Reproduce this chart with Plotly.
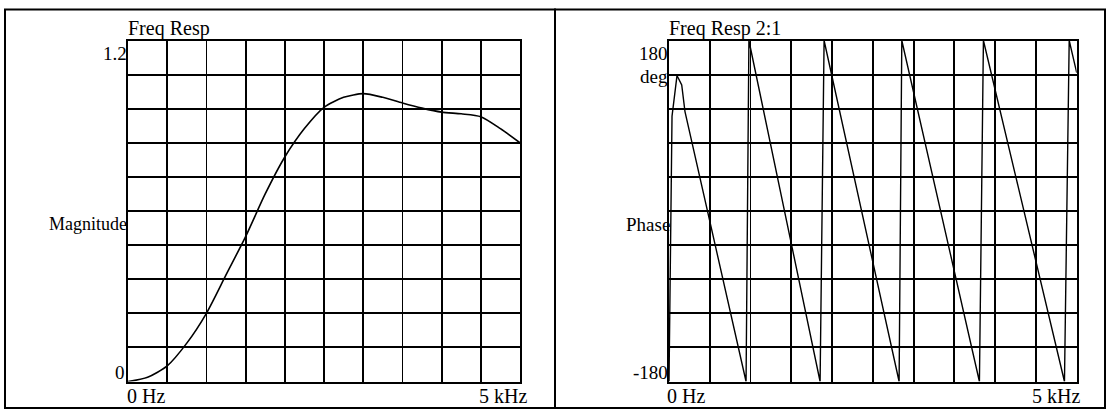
import plotly.graph_objects as go

W, H = 1109, 410

# ---- data ----
mag_freq_khz = [0, 0.25, 0.5, 0.75, 1.0, 1.25, 1.5, 1.75, 2.0, 2.25, 2.5, 2.75,
                3.0, 3.25, 3.5, 3.75, 4.0, 4.25, 4.5, 4.75, 5.0]
mag_values = [0, 0.015, 0.055, 0.135, 0.24, 0.375, 0.51, 0.66, 0.79, 0.89, 0.965, 1.0,
              1.013, 1.0, 0.98, 0.962, 0.948, 0.942, 0.932, 0.89, 0.84]

phase_freq_khz = [0, 0.037, 0.098, 0.156, 0.196, 0.945, 0.98, 1.853, 1.902, 2.822,
                  2.855, 3.807, 3.856, 4.85, 4.908, 5.0]
phase_deg = [-180, 100, 143, 133, 105, -180, 180, -180, 180, -180,
             180, -180, 180, -180, 180, 146]

mag_range = [0, 1.2]
phase_range = [-180, 180]
freq_range = [0, 5]

# ---- layout geometry (pixels) ----
L_X0, L_X1 = 128, 520
R_X0, R_X1 = 669, 1076.7
Y_TOP, Y_BOT = 40.5, 381.5


def px(x):
    return x / W


def py(y):
    return 1 - y / H


fig = go.Figure()
fig.add_trace(go.Scatter(x=mag_freq_khz, y=mag_values, mode="lines",
                         line=dict(color="black", width=1.6, shape="spline", smoothing=0.7),
                         xaxis="x", yaxis="y", showlegend=False, hoverinfo="skip"))
fig.add_trace(go.Scatter(x=phase_freq_khz, y=phase_deg, mode="lines",
                         line=dict(color="black", width=1.4),
                         xaxis="x2", yaxis="y2", showlegend=False, hoverinfo="skip"))

axis_common = dict(showgrid=True, gridcolor="black", gridwidth=1.8, showline=True,
                   linecolor="black", linewidth=2, mirror=True, zeroline=False,
                   showticklabels=False, ticks="", fixedrange=True)

fig.update_layout(
    width=W, height=H, autosize=False,
    margin=dict(l=0, r=0, t=0, b=0),
    paper_bgcolor="white", plot_bgcolor="white",
    font=dict(family="Liberation Serif, Times New Roman, serif", color="black", size=19),
    xaxis=dict(domain=[px(L_X0), px(L_X1)], range=freq_range, dtick=0.5, anchor="y", **axis_common),
    yaxis=dict(domain=[py(Y_BOT), py(Y_TOP)], range=mag_range, dtick=0.12, anchor="x", **axis_common),
    xaxis2=dict(domain=[px(R_X0), px(R_X1)], range=freq_range, dtick=0.5, anchor="y2", **axis_common),
    yaxis2=dict(domain=[py(Y_BOT), py(Y_TOP)], range=phase_range, dtick=36, anchor="x2", **axis_common),
)

# outer panel frames
shapes = [
    dict(type="rect", xref="paper", yref="paper", x0=px(5), x1=px(555), y0=py(408), y1=py(9.5),
         line=dict(color="black", width=2)),
    dict(type="rect", xref="paper", yref="paper", x0=px(555), x1=px(1105), y0=py(408), y1=py(9.5),
         line=dict(color="black", width=2)),
]
fig.update_layout(shapes=shapes)


def ann(text, x, y, xanchor, yanchor, size=19):
    fig.add_annotation(text=text, x=px(x), y=py(y), xref="paper", yref="paper",
                       xanchor=xanchor, yanchor=yanchor, showarrow=False,
                       font=dict(size=size), borderpad=0)


# left panel labels
ann("Freq Resp", 127, 41, "left", "bottom", 20)
ann("1.2", 128, 42, "right", "top")
ann("0", 126, 372, "right", "middle")
ann("Magnitude", 128, 224, "right", "middle", 18)
ann("0 Hz", 126, 384, "left", "top", 20)
ann("5 kHz", 528, 384, "right", "top", 20)

# right panel labels
ann("Freq Resp 2:1", 668, 41, "left", "bottom", 20)
ann("180", 669, 42, "right", "top")
ann("deg", 669, 77, "right", "middle")
ann("Phase", 671, 224, "right", "middle")
ann("-180", 669, 372, "right", "middle")
ann("0 Hz", 666, 384, "left", "top", 20)
ann("5 kHz", 1081, 384, "right", "top", 20)

fig.write_html("out.html",
               config={"displayModeBar": False, "staticPlot": True},
               post_script="document.body.style.margin='0';document.body.style.overflow='hidden';")
